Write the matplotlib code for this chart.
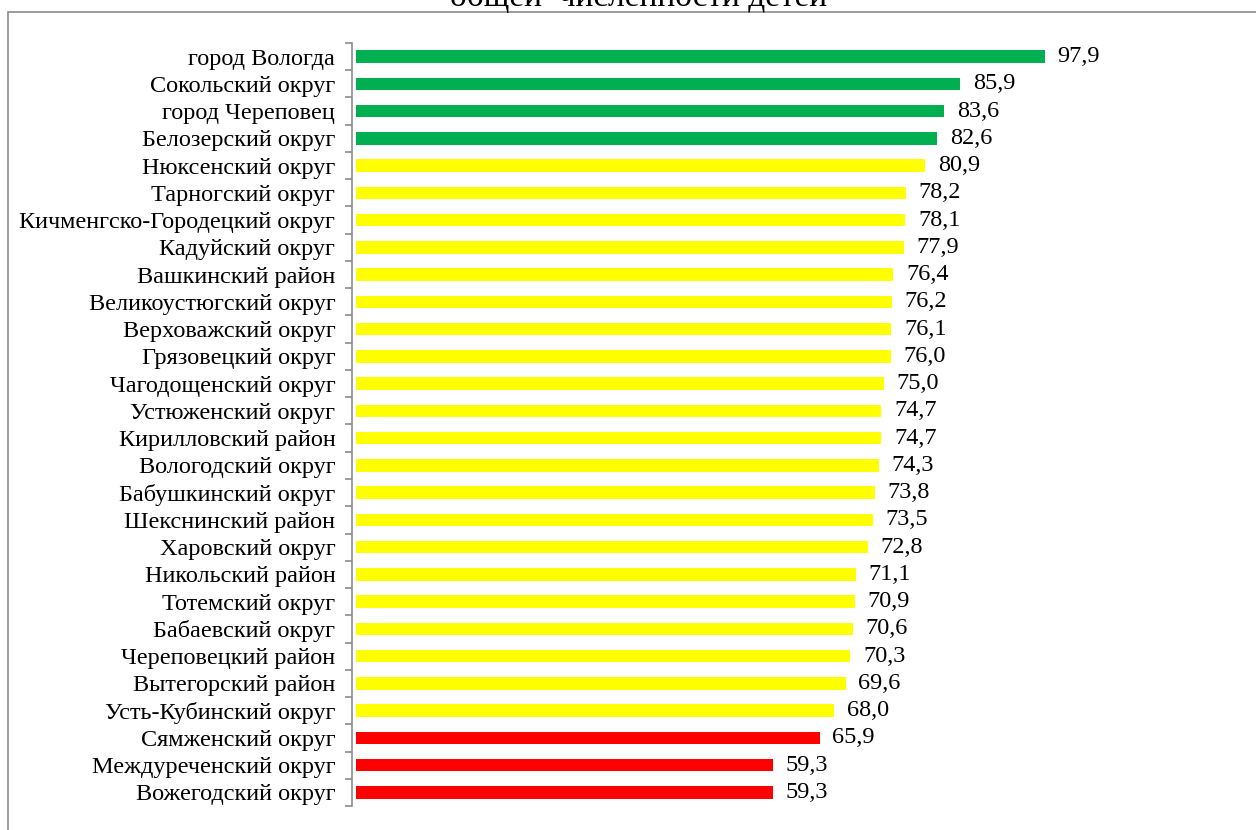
import matplotlib
matplotlib.use("Agg")
from matplotlib import pyplot as plt
from matplotlib.patches import Rectangle
import numpy as np

plt.rcParams['font.family'] = ['Liberation Serif', 'DejaVu Serif']

districts = ["город Вологда", "Сокольский округ", "город Череповец", "Белозерский округ",
             "Нюксенский округ", "Тарногский округ", "Кичменгско-Городецкий округ",
             "Кадуйский округ", "Вашкинский район", "Великоустюгский округ",
             "Верховажский округ", "Грязовецкий округ", "Чагодощенский округ",
             "Устюженский округ", "Кирилловский район", "Вологодский округ",
             "Бабушкинский округ", "Шекснинский район", "Харовский округ",
             "Никольский район", "Тотемский округ", "Бабаевский округ",
             "Череповецкий район", "Вытегорский район", "Усть-Кубинский округ",
             "Сямженский округ", "Междуреченский округ", "Вожегодский округ"]
values = [97.9, 85.9, 83.6, 82.6, 80.9, 78.2, 78.1, 77.9, 76.4, 76.2, 76.1, 76.0,
          75.0, 74.7, 74.7, 74.3, 73.8, 73.5, 72.8, 71.1, 70.9, 70.6, 70.3, 69.6,
          68.0, 65.9, 59.3, 59.3]
groups = ["high"] * 4 + ["mid"] * 21 + ["low"] * 3
group_colors = {"high": "#00B050", "mid": "#FFFF00", "low": "#FF0000"}

W, H = 1256, 830
fig = plt.figure(figsize=(W / 100, H / 100), dpi=100)
fig.patch.set_facecolor("white")

# chart frame (cut by the image edges like the original)
fig.patches.append(Rectangle((8 / W, -0.1), 1.2, (H - 12) / H + 0.1,
                             transform=fig.transFigure, fill=False,
                             edgecolor="#8c8c8c", linewidth=1.2, clip_on=False))
# last line of the title, cut by the top edge as in the original
fig.text(639 / W, 1 - 6 / H, "общей  численности детей", ha="center", va="baseline",
         fontsize=24)

ax = fig.add_axes([352 / W, 1 - 806 / H, 778 / W, 763 / H])
y = np.arange(len(districts))
colors = [group_colors[g] for g in groups]
ax.barh(y, values, height=0.45, color=colors, left=0.5)
for yi, v in zip(y, values):
    ax.text(v + 2.3, yi, f"{v:.1f}".replace(".", ","), va="center", ha="left",
            fontsize=17.5)

ax.set_xlim(0, 110.5)
ax.set_ylim(len(districts) - 0.5, -0.5)
ax.set_yticks(y)
ax.set_yticklabels(districts, fontsize=17.5)
ax.set_yticks(np.arange(-0.5, len(districts), 1), minor=True)
ax.tick_params(axis="y", which="major", length=0, pad=12)
ax.tick_params(axis="y", which="minor", length=5, color="#8c8c8c", width=1.2)
ax.set_xticks([])
for s in ["top", "right", "bottom"]:
    ax.spines[s].set_visible(False)
ax.spines["left"].set_color("#8c8c8c")
ax.spines["left"].set_linewidth(1.2)

fig.savefig("out.png", dpi=100)
